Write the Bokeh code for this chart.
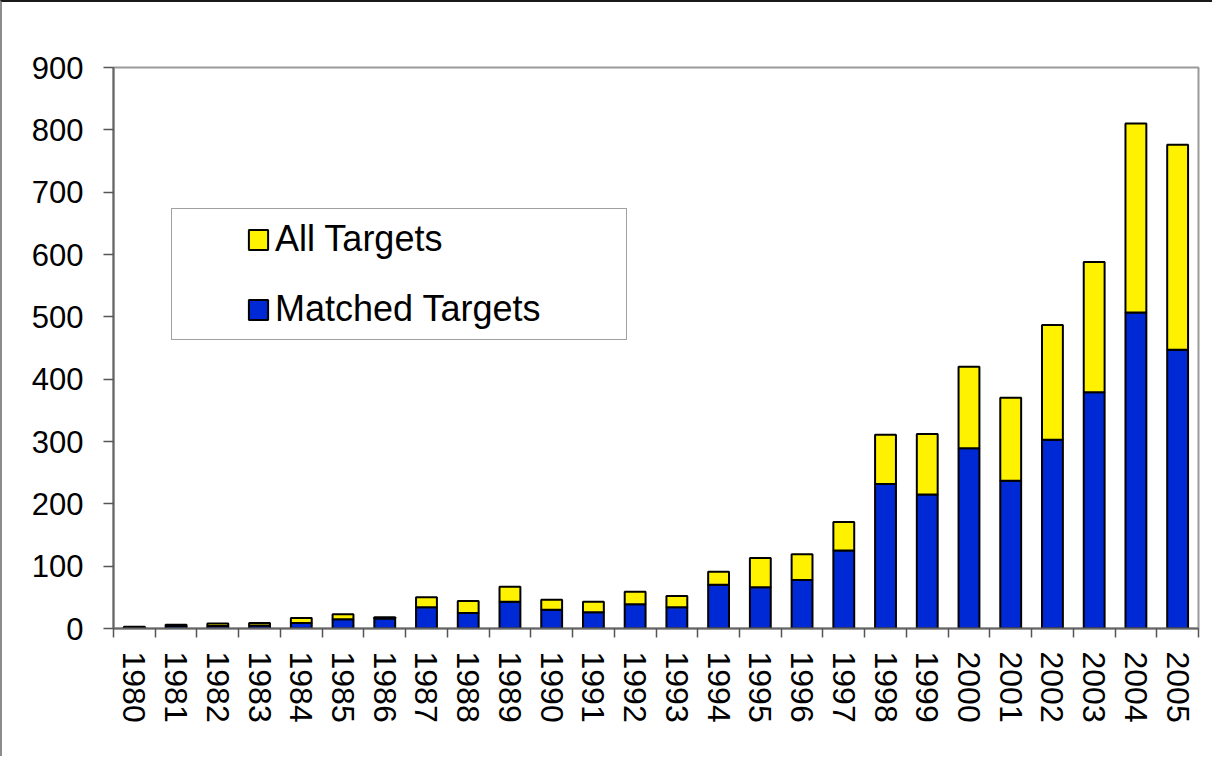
import math
from bokeh.plotting import figure
from bokeh.models import Range1d, FixedTicker, Legend, LegendItem, ColumnDataSource
from bokeh.embed import file_html
from bokeh.resources import INLINE

years = [str(y) for y in range(1980, 2006)]
all_targets = [3, 6, 8, 9, 17, 23, 18, 50, 44, 67, 46, 43, 59, 52, 91, 113, 119,
               171, 311, 312, 420, 370, 487, 588, 810, 776]
matched_targets = [2, 4, 4, 5, 9, 15, 16, 34, 25, 43, 30, 26, 39, 34, 70, 66, 78,
                   125, 232, 215, 289, 237, 303, 379, 507, 447]
y_ticks = [0, 100, 200, 300, 400, 500, 600, 700, 800, 900]

extra = [a - m for a, m in zip(all_targets, matched_targets)]
pos = [i + 0.5 for i in range(len(years))]
bounds = list(range(len(years) + 1))

BLUE = "#0029d6"
YELLOW = "#fff200"
FONT = "Liberation Sans"

src = ColumnDataSource(dict(x=pos, matched=matched_targets, extra=extra, year=years))

p = figure(frame_width=1085, frame_height=561, output_backend="svg", toolbar_location=None,
           x_range=Range1d(0, len(years)), y_range=Range1d(0, 900),
           min_border_left=111, min_border_right=14, min_border_top=65,
           min_border_bottom=128)
p.styles = {"border-left": "2px solid #8c8c8c", "border-top": "2px solid #1a1a1a"}
p.xgrid.visible = False
p.ygrid.visible = False
p.outline_line_color = "#9a9a9a"
p.outline_line_width = 2
p.background_fill_color = "white"
p.border_fill_color = "white"

rs = p.vbar_stack(["matched", "extra"], x="x", width=0.5, source=src,
                  fill_color=[BLUE, YELLOW], line_color="black", line_width=2)

# x axis: boundary ticks as minor ticks, labels at bar centres
p.xaxis.ticker = FixedTicker(ticks=pos, minor_ticks=bounds)
p.xaxis.major_label_overrides = {x: y for x, y in zip(pos, years)}
p.xaxis.major_tick_line_color = None
p.xaxis.minor_tick_out = 9
p.xaxis.minor_tick_in = 0
p.xaxis.minor_tick_line_color = "#555555"
p.xaxis.minor_tick_line_width = 1.5
p.xaxis.major_label_orientation = -math.pi / 2
p.xaxis.major_label_standoff = 14
p.xaxis.major_label_text_font = FONT
p.xaxis.major_label_text_font_size = "32px"
p.xaxis.major_label_text_color = "black"
p.xaxis.axis_line_color = "#666666"
p.xaxis.axis_line_width = 2

p.yaxis.ticker = FixedTicker(ticks=y_ticks)
p.yaxis.major_tick_out = 10
p.yaxis.major_tick_in = 0
p.yaxis.major_tick_line_color = "#555555"
p.yaxis.major_tick_line_width = 1.5
p.yaxis.minor_tick_line_color = None
p.yaxis.major_label_standoff = 20
p.yaxis.major_label_text_font = FONT
p.yaxis.major_label_text_font_size = "31px"
p.yaxis.major_label_text_color = "black"
p.yaxis.axis_line_color = "#666666"
p.yaxis.axis_line_width = 2

# legend frame (an empty, invisible item sized to the box)
dummy_src = ColumnDataSource(dict(x=[], top=[]))
dummy = p.vbar(x="x", top="top", width=0.5, source=dummy_src,
               fill_alpha=0, line_alpha=0)
frame_legend = Legend(items=[LegendItem(label=" ", renderers=[dummy])],
                      location=(58, 288), padding=0, margin=0,
                      glyph_width=454, glyph_height=130,
                      label_width=0, label_standoff=0, label_height=1,
                      label_text_font_size="1px",
                      border_line_color="#444444", border_line_width=1,
                      background_fill_color="white", background_fill_alpha=1)
p.add_layout(frame_legend, "center")

legend = Legend(items=[LegendItem(label="All Targets", renderers=[rs[1]]),
                       LegendItem(label="Matched Targets", renderers=[rs[0]])],
                location=(133, 298), padding=0, margin=0,
                glyph_width=24, glyph_height=25, label_height=36, spacing=28,
                label_standoff=5,
                label_text_font=FONT, label_text_font_size="36px",
                label_text_color="black",
                border_line_color=None, background_fill_alpha=0)
p.add_layout(legend, "center")

open("out.html", "w").write(file_html(p, INLINE))
